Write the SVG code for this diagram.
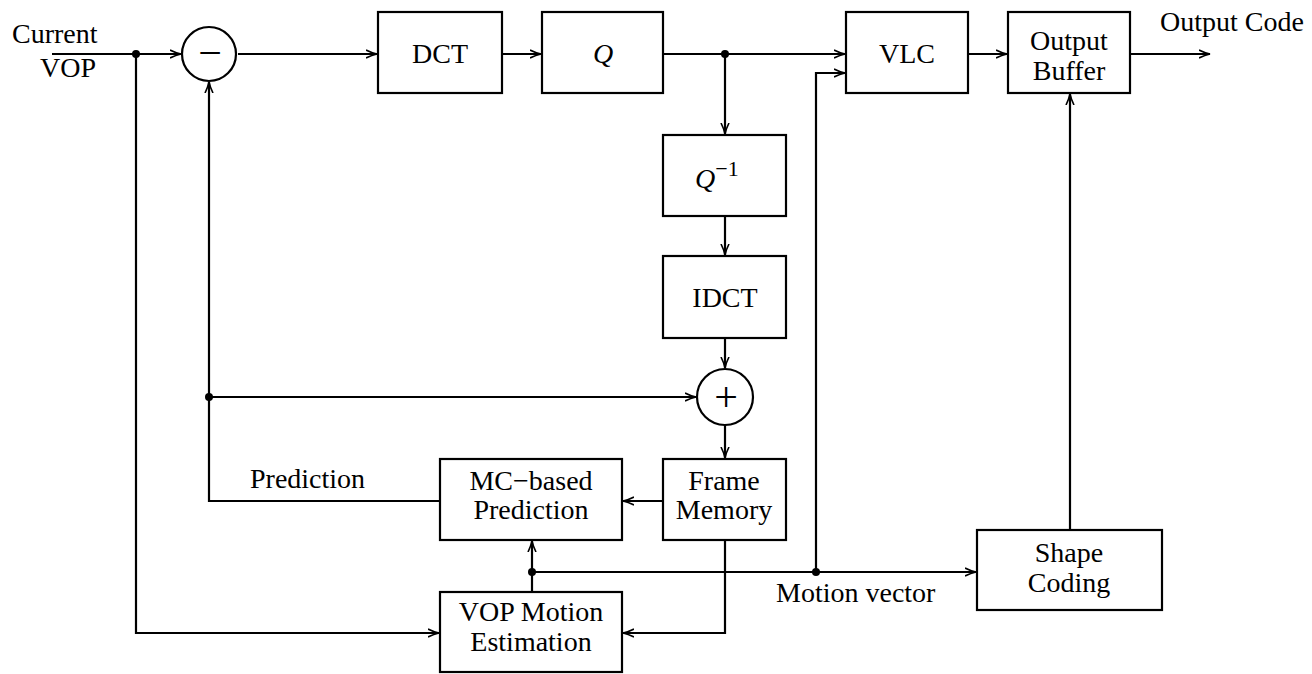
<svg xmlns="http://www.w3.org/2000/svg" width="1312" height="674" viewBox="0 0 1312 674">
<style>
.box{fill:#fff;stroke:#000;stroke-width:2.2}
.c{fill:none;stroke:#000;stroke-width:2.2}
.t{font-family:"Liberation Serif","DejaVu Serif",serif;font-size:28px;fill:#000}
.m{text-anchor:middle}
.op{font-size:42px}
.dot{fill:#000}
</style>
<defs>
<marker id="a" viewBox="0 0 12 10" refX="11" refY="5" markerWidth="12" markerHeight="10" markerUnits="userSpaceOnUse" orient="auto">
<path d="M0,1 Q6,4 11,5 Q6,6 0,9" fill="none" stroke="#000" stroke-width="1.6"/>
</marker>
</defs>
<g id="connectors">
<path class="c" d="M52,54 H181" marker-end="url(#a)"/>
<path class="c" d="M136,54 V633 H439" marker-end="url(#a)"/>
<path class="c" d="M238,54 H377" marker-end="url(#a)"/>
<path class="c" d="M502,54 H541" marker-end="url(#a)"/>
<path class="c" d="M663,54 H845" marker-end="url(#a)"/>
<path class="c" d="M725,54 V134" marker-end="url(#a)"/>
<path class="c" d="M725,216 V255" marker-end="url(#a)"/>
<path class="c" d="M725,338 V368" marker-end="url(#a)"/>
<path class="c" d="M725,425 V458" marker-end="url(#a)"/>
<path class="c" d="M209,397 H696" marker-end="url(#a)"/>
<path class="c" d="M440,501 H209 V82" marker-end="url(#a)"/>
<path class="c" d="M663,501 H623" marker-end="url(#a)"/>
<path class="c" d="M725,540 V633 H623" marker-end="url(#a)"/>
<path class="c" d="M532,592 V541" marker-end="url(#a)"/>
<path class="c" d="M532,572 H976" marker-end="url(#a)"/>
<path class="c" d="M816,572 V73 H845" marker-end="url(#a)"/>
<path class="c" d="M1070,530 V94" marker-end="url(#a)"/>
<path class="c" d="M968,54 H1007" marker-end="url(#a)"/>
<path class="c" d="M1130,54 H1210" marker-end="url(#a)"/>
<circle class="dot" cx="136" cy="54" r="4"/>
<circle class="dot" cx="725" cy="54" r="4"/>
<circle class="dot" cx="209" cy="397" r="4"/>
<circle class="dot" cx="532" cy="572" r="4"/>
<circle class="dot" cx="816" cy="572" r="4"/>
</g>
<g id="labels">
<text class="t" x="12" y="43">Current</text>
<text class="t" x="40" y="77">VOP</text>
<text class="t" x="1160" y="31">Output Code</text>
<text class="t" x="250" y="488">Prediction</text>
<text class="t" x="776" y="602">Motion vector</text>
</g>
<g id="subtractor">
<circle class="box" cx="209" cy="54" r="27"/>
<text class="t m op" x="210" y="67">−</text>
</g>
<g id="dct">
<rect class="box" x="378" y="12" width="124" height="81"/>
<text class="t m" x="440" y="63">DCT</text>
</g>
<g id="q">
<rect class="box" x="542" y="12" width="121" height="81"/>
<text class="t m" x="603" y="63" font-style="italic">Q</text>
</g>
<g id="vlc">
<rect class="box" x="846" y="12" width="122" height="81"/>
<text class="t m" x="907" y="63">VLC</text>
</g>
<g id="output-buffer">
<rect class="box" x="1008" y="12" width="122" height="81"/>
<text class="t m" x="1069" y="50">Output</text>
<text class="t m" x="1069" y="80">Buffer</text>
</g>
<g id="qinv">
<rect class="box" x="663" y="135" width="123" height="81"/>
<text class="t" x="695" y="188"><tspan font-style="italic">Q</tspan><tspan font-size="22" dy="-12">−1</tspan></text>
</g>
<g id="idct">
<rect class="box" x="663" y="256" width="123" height="82"/>
<text class="t m" x="725" y="307">IDCT</text>
</g>
<g id="adder">
<circle class="box" cx="725" cy="397" r="28"/>
<text class="t m op" x="726" y="411">+</text>
</g>
<g id="mc-prediction">
<rect class="box" x="440" y="459" width="182" height="81"/>
<text class="t m" x="531" y="490">MC−based</text>
<text class="t m" x="531" y="519">Prediction</text>
</g>
<g id="frame-memory">
<rect class="box" x="663" y="459" width="123" height="81"/>
<text class="t m" x="724" y="490">Frame</text>
<text class="t m" x="724" y="519">Memory</text>
</g>
<g id="motion-estimation">
<rect class="box" x="440" y="592" width="182" height="80"/>
<text class="t m" x="531" y="621">VOP Motion</text>
<text class="t m" x="531" y="651">Estimation</text>
</g>
<g id="shape-coding">
<rect class="box" x="977" y="530" width="185" height="80"/>
<text class="t m" x="1069" y="562">Shape</text>
<text class="t m" x="1069" y="592">Coding</text>
</g>
</svg>
